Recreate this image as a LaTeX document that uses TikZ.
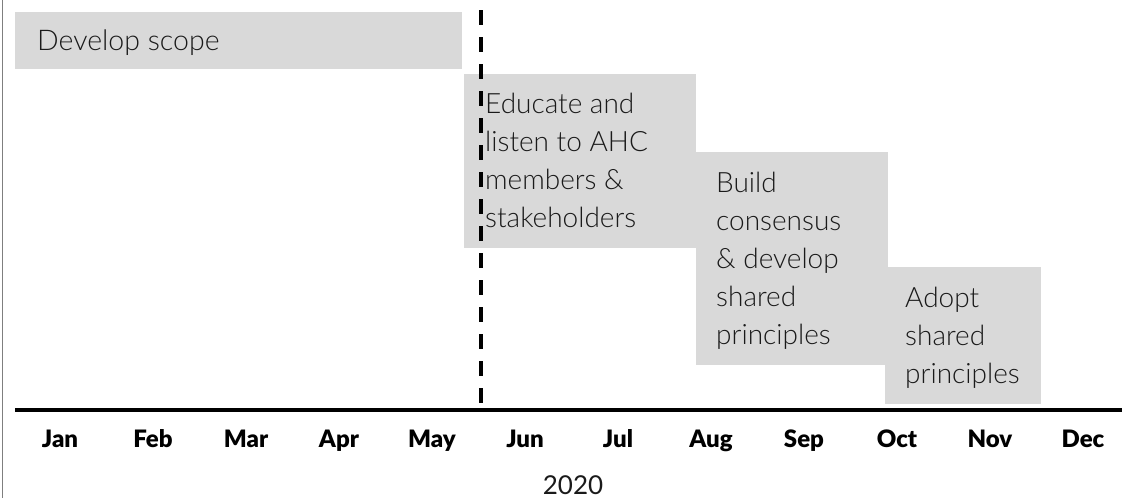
\documentclass[tikz,border=0pt]{standalone}
\usepackage{fontspec}
\usetikzlibrary{calc}
\setmainfont{Lato}
\newfontfamily\lightfont{Lato Light}
\newfontfamily\heavyfont{Lato Black}
\definecolor{boxgray}{HTML}{D9D9D9}
\definecolor{ink}{HTML}{1A1A1A}
\definecolor{framegray}{HTML}{7F7F7F}
% stacked lines whose baseline is that of the first line
\newcommand{\linestack}[1]{\vtop{\baselineskip=38pt\halign{##\hfil\cr#1\crcr}}}

\begin{document}
\begin{tikzpicture}[x=1pt,y=-1pt,
  phase/.style={fill=boxgray, draw=none, inner sep=0pt, anchor=north west},
  phasetext/.style={anchor=base west, inner sep=0pt, text=ink,
    font=\lightfont\fontsize{28}{38}\selectfont},
  month/.style={anchor=base, inner sep=0pt, text=black,
    font=\heavyfont\fontsize{24}{28}\selectfont},
]
\useasboundingbox (0,0) rectangle (1122,498);

% frame line on the left
\coordinate (ftop) at (2.5,0);
\coordinate (fbot) at (2.5,498);
\draw[framegray, line width=1.5pt] (ftop) -- (fbot);

% phase boxes
\node[phase, minimum width=447pt, minimum height=57pt] (scope) at (15,12) {};
\node[phase, minimum width=232pt, minimum height=174pt] (educate) at (464,74) {};
\node[phase, minimum width=192pt, minimum height=213pt] (build) at (696,152) {};
\node[phase, minimum width=156pt, minimum height=137pt] (adopt) at (885,267) {};

% phase labels
\node[phasetext, font=\lightfont\fontsize{28.5}{38}\selectfont] (scopetxt)
  at ($(scope.north west)+(22,38)$) {Develop scope};
\node[phasetext] (educatetxt) at ($(educate.north west)+(21,39)$)
  {\linestack{Educate and\cr listen to AHC\cr members \&\cr stakeholders}};
\node[phasetext] (buildtxt) at ($(build.north west)+(20,40)$)
  {\linestack{Build\cr consensus\cr \& develop\cr shared\cr principles}};
\node[phasetext] (adopttxt) at ($(adopt.north west)+(20,40)$)
  {\linestack{Adopt\cr shared\cr principles}};

% today marker
\coordinate (dtop) at (481,10);
\coordinate (dbot) at (481,403);
\draw[black, line width=4pt, dash pattern=on 15pt off 12pt] (dtop) -- (dbot);

% time axis
\coordinate (axl) at (15,410);
\coordinate (axr) at (1122,410);
\draw[black, line width=4.5pt] (axl) -- (axr);

\foreach \m [count=\i from 0] in {Jan,Feb,Mar,Apr,May,Jun,Jul,Aug,Sep,Oct,Nov,Dec}
  \node[month] (m\i) at (60+93*\i,447) {\m};

\node[anchor=base, inner sep=0pt, text=ink, font=\fontsize{26}{30}\selectfont]
  (year) at (573,494) {2020};
\end{tikzpicture}
\end{document}
